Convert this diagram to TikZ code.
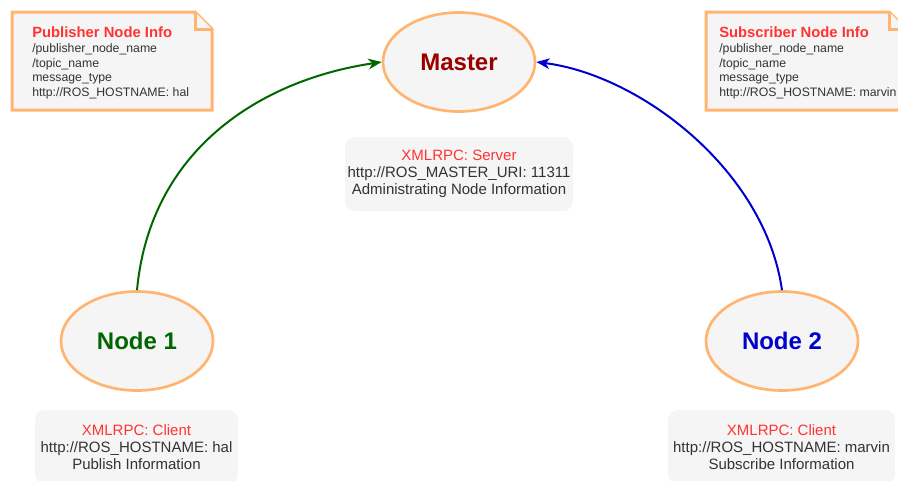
\documentclass[tikz,border=0pt]{standalone}
\usepackage{fontspec}
\setmainfont{Liberation Sans}
\usetikzlibrary{shapes.geometric,arrows.meta}
\definecolor{rimcol}{HTML}{FFB570}
\definecolor{paper}{HTML}{F5F5F5}
\definecolor{txtcol}{HTML}{333333}
\definecolor{hotred}{HTML}{FF3333}
\definecolor{mastercol}{HTML}{990000}
\definecolor{pubcol}{HTML}{006600}
\definecolor{subcol}{HTML}{0000CC}
\tikzset{
  blob/.style={draw=rimcol,fill=paper,ellipse,line width=2pt,minimum width=114pt,minimum height=74.25pt,font=\fontsize{18}{22}\selectfont\bfseries},
  infobox/.style={fill=paper,rounded corners=7.5pt,align=center,text=txtcol,inner sep=0pt,font=\fontsize{11.25}{12.75}\selectfont},
  notebox/.style={draw=rimcol,fill=paper,line width=2.25pt,line join=miter},
  notetxt/.style={anchor=base west,align=left,inner sep=0pt,text=txtcol,font=\fontsize{9.2}{11.06}\selectfont},
  link/.style={line width=1.5pt,-{Stealth[length=10pt,width=8pt,inset=3pt]}},
}
\begin{document}
\begin{tikzpicture}[x=0.75pt,y=-0.75pt]
  \useasboundingbox (0,0) rectangle (898,480);
  \draw[notebox] (12,12) -- (195,12) -- (212,29) -- (212,110) -- (12,110) -- cycle;
  \draw[notebox] (195,12) -- (195,29) -- (212,29);
  \node[notetxt] (pubinfo) at (32,96.7) {{\fontsize{11.1}{11.06}\selectfont\bfseries\color{hotred}Publisher Node Info}\\/publisher\_node\_name\\/topic\_name\\message\_type\\http://ROS\_HOSTNAME: hal};
  \draw[notebox] (706,12) -- (889,12) -- (906,29) -- (906,110) -- (706,110) -- cycle;
  \draw[notebox] (889,12) -- (889,29) -- (906,29);
  \node[notetxt] (subinfo) at (719,96.7) {{\fontsize{11.1}{11.06}\selectfont\bfseries\color{hotred}Subscriber Node Info}\\/publisher\_node\_name\\/topic\_name\\message\_type\\http://ROS\_HOSTNAME: marvin};
  \node[blob,text=mastercol] (master) at (459,62) {Master};
  \node[blob,text=pubcol] (node1) at (137,341) {Node 1};
  \node[blob,text=subcol] (node2) at (782,341) {Node 2};
  \node[infobox,minimum width=171pt,minimum height=55.5pt] (srvinfo) at (459,174) {\textcolor{hotred}{XMLRPC: Server}\\http://ROS\_MASTER\_URI: 11311\\Administrating Node Information};
  \node[infobox,minimum width=152.25pt,minimum height=55.5pt] (cli1info) at (136.5,447) {\textcolor{hotred}{XMLRPC: Client}\\http://ROS\_HOSTNAME: hal\\Publish Information};
  \node[infobox,minimum width=170.25pt,minimum height=55.5pt] (cli2info) at (781.5,447) {\textcolor{hotred}{XMLRPC: Client}\\http://ROS\_HOSTNAME: marvin\\Subscribe Information};
  \draw[link,pubcol] (node1.north) .. controls (150,150) and (260,80) .. (master.west);
  \draw[link,subcol] (node2.north) .. controls (765,170) and (640,75) .. (master.east);
\end{tikzpicture}
\end{document}
